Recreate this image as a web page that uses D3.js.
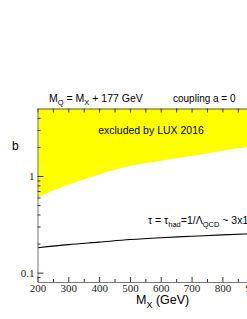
<!DOCTYPE html>
<html>
<head>
<meta charset="utf-8">
<script src="https://cdn.jsdelivr.net/npm/d3@7"></script>
<style>
  body { margin: 0; background: #fff; }
  text { font-family: "Liberation Sans", Arial, sans-serif; }
</style>
</head>
<body>
<div id="chart"></div>
<script>
// données
const mX = [200, 300, 400, 500, 600, 700, 800, 900, 1000];
const luxB = [0.60, 0.81, 1.04, 1.27, 1.44, 1.61, 1.83, 2.04, 2.25];
const tauB = [0.181, 0.195, 0.207, 0.220, 0.230, 0.238, 0.246, 0.253, 0.260];
const yMajor = [0.1, 1];
const yMinor = [0.09, 0.2, 0.3, 0.4, 0.5, 0.6, 0.7, 0.8, 0.9, 2, 3, 4];

const WIDTH = 247
const HEIGHT = 319

const svg = d3.select("#chart")
    .append("svg")
    .attr("width", WIDTH)
    .attr("height", HEIGHT)

const x = d3.scaleLinear().domain([200, 1000]).range([37.5, 284]);
const y = d3.scaleLog().domain([0.08, 5]).range([282, 108.5]);

svg.append("clipPath").attr("id", "clip")
    .append("rect")
    .attr("x", x(200)).attr("y", y(5))
    .attr("width", x(1000) - x(200)).attr("height", y(0.08) - y(5));

const plot = svg.append("g").attr("clip-path", "url(#clip)");

// zone exclue (jaune)
const area = d3.area()
    .x((d, i) => x(mX[i]))
    .y0(y(5))
    .y1(d => y(d))
    .curve(d3.curveMonotoneX);

plot.append("path")
    .datum(luxB)
    .attr("d", area)
    .attr("fill", "#ffff00");

// ligne tau
const line = d3.line()
    .x((d, i) => x(mX[i]))
    .y(d => y(d))
    .curve(d3.curveMonotoneX);

plot.append("path")
    .datum(tauB)
    .attr("d", line)
    .attr("fill", "none")
    .attr("stroke", "#000")
    .attr("stroke-width", 1.1);

// axe du bas (ticks vers l'intérieur)
const xTicks = d3.range(200, 1001, 50);
const bottomAxis = svg.append("g")
    .attr("transform", `translate(0,${y(0.08)})`)
    .call(d3.axisBottom(x).tickValues(xTicks).tickSize(-5).tickSizeOuter(0).tickPadding(2)
        .tickFormat(d => d % 100 === 0 ? d : ""));
bottomAxis.selectAll(".tick line").attr("y2", d => d % 100 === 0 ? -5 : -3).attr("stroke", "#333");
bottomAxis.select(".domain").attr("stroke", "#777");

// axe du haut
const topAxis = svg.append("g")
    .attr("transform", `translate(0,${y(5)})`)
    .call(d3.axisTop(x).tickValues(xTicks).tickSize(-4).tickSizeOuter(0).tickFormat(""));
topAxis.selectAll(".tick line").attr("stroke", "#333");
topAxis.select(".domain").attr("stroke", "#555");

// axe gauche (log)
const leftAxis = svg.append("g")
    .attr("transform", `translate(${x(200)},0)`)
    .call(d3.axisLeft(y).tickValues(yMajor.concat(yMinor)).tickSize(-5).tickSizeOuter(0).tickPadding(3)
        .tickFormat(d => yMajor.includes(d) ? d : ""));
leftAxis.selectAll(".tick line").attr("x2", d => yMajor.includes(d) ? 6 : 3).attr("stroke", "#333");
leftAxis.select(".domain").attr("stroke", "#777");

// police serif pour les graduations
svg.selectAll(".tick text")
    .style("font-family", '"Liberation Serif", "Times New Roman", serif')
    .style("font-size", "11px")
    .attr("fill", "#222");

// textes
svg.append("text")
    .attr("x", 49).attr("y", 102)
    .attr("font-size", "10.5px")
    .html('M<tspan dy="2.5" font-size="7.5px">Q</tspan><tspan dy="-2.5"> = M</tspan><tspan dy="2.5" font-size="7.5px">X</tspan><tspan dy="-2.5"> + 177 GeV</tspan>');

svg.append("text")
    .attr("x", 173).attr("y", 102)
    .attr("font-size", "10px")
    .text("coupling a = 0");

svg.append("text")
    .attr("x", 151).attr("y", 134)
    .attr("text-anchor", "middle")
    .attr("font-size", "10.5px")
    .text("excluded by LUX 2016");

svg.append("text")
    .attr("x", 12).attr("y", 150)
    .attr("font-size", "12px")
    .text("b");

svg.append("text")
    .attr("x", 148).attr("y", 224)
    .attr("font-size", "10.5px")
    .html('τ = τ<tspan dy="2.5" font-size="7.5px">had</tspan><tspan dy="-2.5">=1/Λ</tspan><tspan dy="2.5" font-size="7.5px">QCD</tspan><tspan dy="-2.5"> ~ 3x10</tspan><tspan dy="-4" font-size="7px">-24</tspan><tspan dy="4"> s</tspan>');

svg.append("text")
    .attr("x", 136).attr("y", 304)
    .attr("font-size", "12.5px")
    .html('M<tspan dy="3.5" font-size="9px">X</tspan><tspan dy="-3.5"> (GeV)</tspan>');
</script>
</body>
</html>
